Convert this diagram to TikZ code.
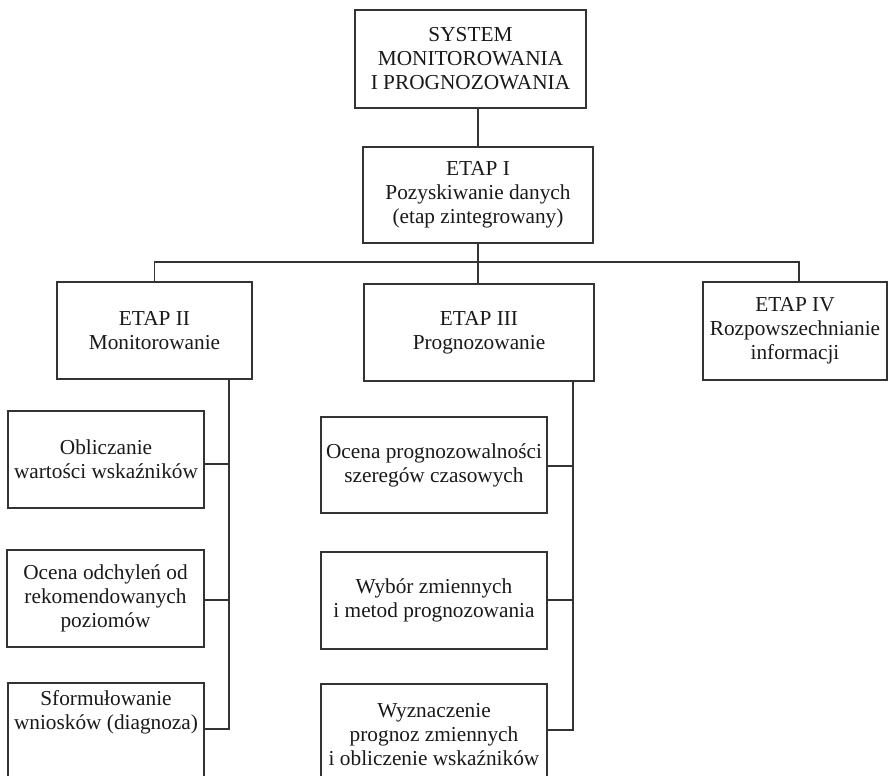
\documentclass[tikz,border=0pt]{standalone}
\usepackage{fontspec}
\setmainfont{Liberation Serif}
\tikzset{
  box/.style={draw=black!80, line width=1.1pt, rectangle, align=center, inner sep=0pt,
    font=\fontsize{21.3}{24}\selectfont, text=black!90},
  link/.style={draw=black!80, line width=1.1pt}
}
\begin{document}
\begin{tikzpicture}[x=1pt,y=-1pt]
\useasboundingbox (0,0) rectangle (889,776);
\clip (0,0) rectangle (889,776);
% top
\node[box, minimum width=231pt, minimum height=98pt] (top) at (470.5,59) {SYSTEM\\MONITOROWANIA\\I PROGNOZOWANIA};
\node[box, minimum width=230pt, minimum height=96pt] (e1) at (478,195) {ETAP I\\Pozyskiwanie danych\\(etap zintegrowany)};
\node[box, minimum width=195pt, minimum height=97pt] (e2) at (154.5,330.5) {ETAP II\\Monitorowanie};
\node[box, minimum width=230pt, minimum height=97pt] (e3) at (479,332.5) {ETAP III\\Prognozowanie};
\node[box, minimum width=184pt, minimum height=98pt] (e4) at (795,331) {ETAP IV\\Rozpowszechnianie\\informacji};
% left column
\node[box, minimum width=196pt, minimum height=97pt] (l1) at (106,459.5) {Obliczanie\\wartości wskaźników};
\node[box, minimum width=197pt, minimum height=97pt] (l2) at (105.5,598.5) {Ocena odchyleń od\\rekomendowanych\\poziomów};
\node[box, minimum width=196pt, minimum height=100pt] (l3) at (106,733) {Sformułowanie\\wniosków (diagnoza)\\[23pt]};
% middle column
\node[box, minimum width=226pt, minimum height=96pt] (m1) at (434,465) {Ocena prognozowalności\\szeregów czasowych};
\node[box, minimum width=226pt, minimum height=97pt] (m2) at (434,600.5) {Wybór zmiennych\\i metod prognozowania};
\node[box, minimum width=226pt, minimum height=102pt] (m3) at (434,735) {Wyznaczenie\\prognoz zmiennych\\i obliczenie wskaźników};
% connectors top
\coordinate (bar) at (478,262);
\draw[link] (top.south -| e1.north) -- (e1.north);
\draw[link] (e1.south) -- (bar);
\draw[link] (bar) -- (e3.north -| bar);
\draw[link] (e2.north) |- (bar) -| (799,282);
% left spine
\coordinate (ls) at (229,379);
\coordinate (lb) at (229,729);
\draw[link] (ls) -- (lb) -- (l3.east |- lb);
\draw[link] (l1.east |- 0,464) -- (229,464);
\draw[link] (l2.east |- 0,600) -- (229,600);
% middle spine
\coordinate (ms) at (573,381);
\coordinate (mb) at (573,730);
\draw[link] (ms) -- (mb) -- (m3.east |- mb);
\draw[link] (m1.east |- 0,466) -- (573,466);
\draw[link] (m2.east |- 0,600) -- (573,600);
\end{tikzpicture}
\end{document}
